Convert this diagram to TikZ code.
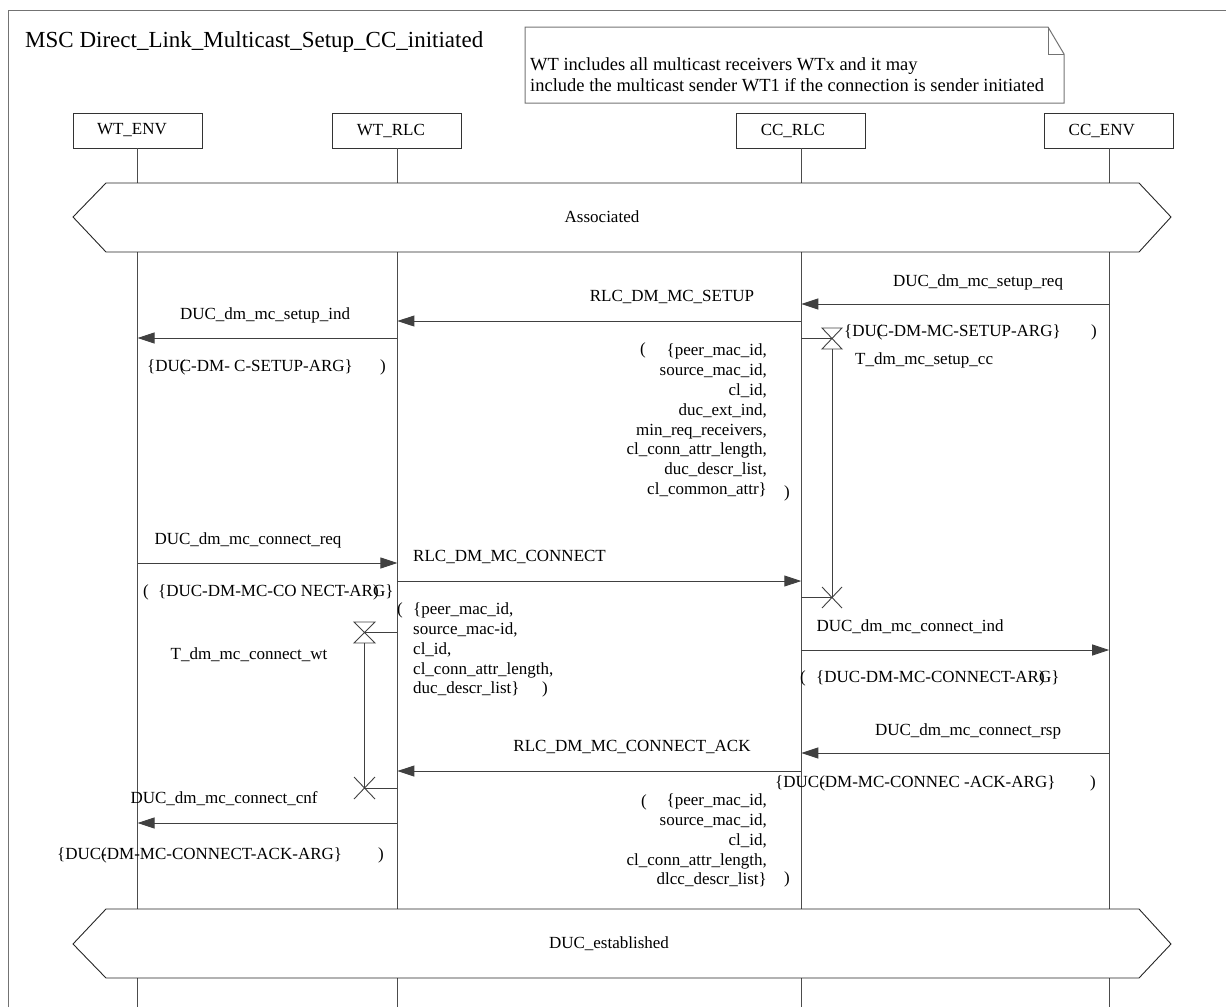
\documentclass[tikz,border=0pt]{standalone}
\usepackage{fontspec}
\setmainfont{Liberation Serif}
\usetikzlibrary{arrows.meta}
\usetikzlibrary{positioning}

\tikzset{
  frame/.style={draw=black!55, line width=1pt},
  inst/.style={draw=black!80, line width=0.9pt, text width=129pt, align=left, execute at begin node={\hspace*{24pt}}, minimum height=35pt, inner sep=0pt, font=\fontsize{17}{20}\selectfont},
  life/.style={draw=black!70, line width=0.9pt},
  cond/.style={draw=black!85, line width=0.9pt},
  msg/.style={draw=black!75, line width=0.9pt, -{Triangle[length=17pt,width=11pt]}},
  tmr/.style={draw=black!75, line width=0.9pt},
  txt/.style={inner sep=0pt, font=\fontsize{17}{20}\selectfont},
  parlist/.style={txt, font=\fontsize{17}{19.8}\selectfont},
}

\begin{document}
\begin{tikzpicture}[x=1pt,y=-1pt]
\useasboundingbox (0,0) rectangle (1226,1007);

% frame, title, note
\draw[frame] (8,1007) -- (8,10) -- (1226,10);
\node[txt, anchor=west, font=\fontsize{23}{26}\selectfont] (msc) at (25,42) {MSC Direct\_Link\_Multicast\_Setup\_CC\_initiated};

\draw[frame] (525,27) -- (1048,27) -- (1064,54) -- (1064,103) -- (525,103) -- cycle;
\draw[frame] (1048,27) -- (1048,54) -- (1064,54);
\node[txt, anchor=west, align=left, font=\fontsize{18.5}{21}\selectfont] (remark) at (530,74.5)
  {WT includes all multicast receivers WTx and it may\\include the multicast sender WT1 if the connection is sender initiated};

% instances
\node[inst] (wtenv) at (137.5,130.5) {WT\_ENV};
\node[inst, right=130pt of wtenv] (wtrlc) {WT\_RLC};
\node[inst, right=274pt of wtrlc] (ccrlc) {CC\_RLC};
\node[inst, right=178pt of ccrlc] (ccenv) {CC\_ENV};

\coordinate (c1t) at (0,183);
\coordinate (c1b) at (0,252);
\coordinate (c2t) at (0,909);
\coordinate (c2b) at (0,978);
\coordinate (bot) at (0,1007);

\foreach \i in {wtenv,wtrlc,ccrlc,ccenv}
{
	\draw[life] (\i.south) -- (\i |- c1t);
	\draw[life] (\i |- c1b) -- (\i |- c2t);
	\draw[life] (\i |- c2b) -- (\i |- bot);
}

% conditions
\draw[cond] (73,217) -- (106,183) -- (1139,183) -- (1171,217) -- (1139,252) -- (106,252) -- cycle;
\node[txt] (assoc) at (602,217) {Associated};
\draw[cond] (73,944) -- (106,909) -- (1139,909) -- (1171,944) -- (1139,978) -- (106,978) -- cycle;
\node[txt] (estab) at (609,944) {DUC\_established};

% setup
\draw[msg] (ccenv |- 0,304) -- (ccrlc |- 0,304);
\node[txt] (setupreq) at (978,282) {DUC\_dm\_mc\_setup\_req};
\draw[msg] (ccrlc |- 0,321) -- (wtrlc |- 0,321);
\node[txt] (rlcsetup) at (672,297) {RLC\_DM\_MC\_SETUP};
\draw[msg] (wtrlc |- 0,338) -- (wtenv |- 0,338);
\node[txt] (setupind) at (265,315) {DUC\_dm\_mc\_setup\_ind};

\node[txt, anchor=west] (indarg) at (147,367) {\{DU\rlap{(}C-DM- C-SETUP-ARG\}};
\node[txt] (indargr) at (383,367) {)};
\node[txt, anchor=west] (reqarg) at (844,332) {\{DU\rlap{(}C-DM-MC-SETUP-ARG\}};
\node[txt] (reqargr) at (1094,332) {)};

\node[txt] (setupl) at (643,350) {(};
\node[parlist, anchor=east, align=right] (setuppar) at (767,420.5)
  {\{peer\_mac\_id,\\source\_mac\_id,\\cl\_id,\\duc\_ext\_ind,\\min\_req\_receivers,\\cl\_conn\_attr\_length,\\duc\_descr\_list,\\cl\_common\_attr\}};
\node[txt] (setupr) at (787,493) {)};

% T_dm_mc_setup_cc
\coordinate (t1s) at (832,338.5);
\coordinate (t1e) at (832,597.5);
\draw[tmr] (ccrlc |- t1s) -- (t1s);
\draw[tmr] (t1s) ++(-10,-10.5) -- ++(20,0) -- ++(-20,21) -- ++(20,0) -- cycle;
\draw[tmr] (t1s) ++(0,10.5) -- (t1e);
\draw[tmr] (ccrlc |- t1e) -- (t1e);
\draw[tmr] (t1e) ++(-10,-10.5) -- ++(20,21) (t1e) ++(-10,10.5) -- ++(20,-21);
\node[txt, anchor=west] (t1lbl) at (855,360) {T\_dm\_mc\_setup\_cc};

% connect
\draw[msg] (wtenv |- 0,563) -- (wtrlc |- 0,563);
\node[txt] (connreq) at (248,540) {DUC\_dm\_mc\_connect\_req};
\draw[msg] (wtrlc |- 0,581) -- (ccrlc |- 0,581);
\node[txt, anchor=west] (rlcconn) at (413,557) {RLC\_DM\_MC\_CONNECT};
\node[txt] (reqargl) at (146,592) {(};
\node[txt, anchor=west] (connreqarg) at (158,592) {\{DUC-DM-MC-CO NECT-AR\rlap{)}G\}};

\node[txt] (connl) at (400,610) {(};
\node[parlist, anchor=west, align=left] (connpar) at (413,649.5)
  {\{peer\_mac\_id,\\source\_mac-id,\\cl\_id,\\cl\_conn\_attr\_length,\\duc\_descr\_list\}};
\node[txt] (connr) at (545,689) {)};

\draw[msg] (ccrlc |- 0,650) -- (ccenv |- 0,650);
\node[txt] (connind) at (910,627) {DUC\_dm\_mc\_connect\_ind};
\node[txt] (indargl) at (803,678) {(};
\node[txt, anchor=west] (connindarg) at (816,678) {\{DUC-DM-MC-CONNECT-AR\rlap{)}G\}};

% T_dm_mc_connect_wt
\coordinate (t2s) at (364.5,632.5);
\coordinate (t2e) at (364.5,788);
\draw[tmr] (wtrlc |- t2s) -- (t2s);
\draw[tmr] (t2s) ++(-10.5,-10.5) -- ++(21,0) -- ++(-21,21) -- ++(21,0) -- cycle;
\draw[tmr] (t2s) ++(0,10.5) -- (t2e);
\draw[tmr] (wtrlc |- t2e) -- (t2e);
\draw[tmr] (t2e) ++(-10.5,-11) -- ++(21,22) (t2e) ++(-10.5,11) -- ++(21,-22);
\node[txt] (t2lbl) at (249,655) {T\_dm\_mc\_connect\_wt};

% connect ack
\draw[msg] (ccenv |- 0,753) -- (ccrlc |- 0,753);
\node[txt] (connrsp) at (968,731) {DUC\_dm\_mc\_connect\_rsp};
\draw[msg] (ccrlc |- 0,771) -- (wtrlc |- 0,771);
\node[txt] (rlcack) at (632,747) {RLC\_DM\_MC\_CONNECT\_ACK};
\node[txt, anchor=west] (rsparg) at (775,783) {\{DUC\rlap{(}-DM-MC-CONNEC -ACK-ARG\}};
\node[txt] (rspargr) at (1093,783) {)};

\node[txt] (ackl) at (644,802) {(};
\node[parlist, anchor=east, align=right] (ackpar) at (767,840.5)
  {\{peer\_mac\_id,\\source\_mac\_id,\\cl\_id,\\cl\_conn\_attr\_length,\\dlcc\_descr\_list\}};
\node[txt] (ackr) at (787,879) {)};

\draw[msg] (wtrlc |- 0,823) -- (wtenv |- 0,823);
\node[txt] (conncnf) at (224,799) {DUC\_dm\_mc\_connect\_cnf};
\node[txt, anchor=west] (cnfarg) at (57,855) {\{DUC\rlap{(}-DM-MC-CONNECT-ACK-ARG\}};
\node[txt] (cnfargr) at (381,855) {)};
\end{tikzpicture}
\end{document}
